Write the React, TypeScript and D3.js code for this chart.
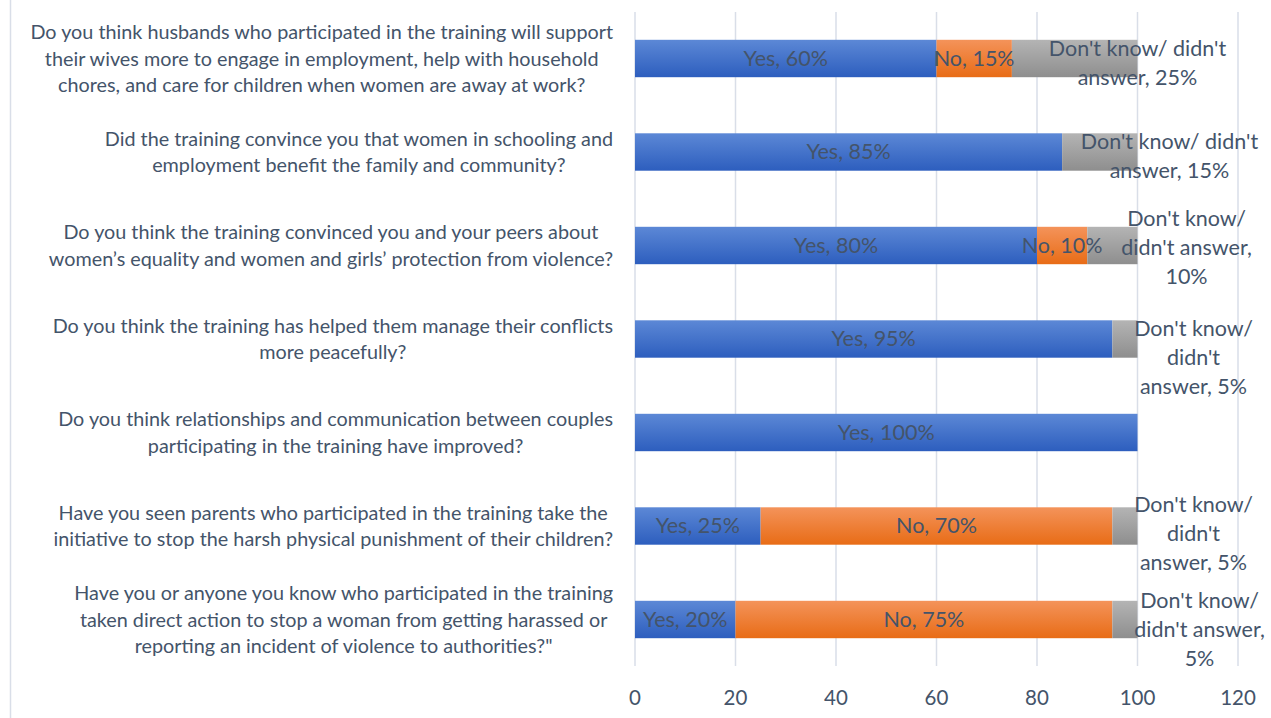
import React, { useEffect, useRef } from "react";
import * as d3 from "d3";

const questions: string[][] = [
  [
    "Do you think husbands who participated in the training will support",
    "their wives more to engage in employment, help with household",
    "chores, and care for children when women are away at work?",
  ],
  [
    "Did the training convince you that women in schooling and",
    "employment benefit the family and community?",
  ],
  [
    "Do you think the training convinced you and your peers about",
    "women’s equality and women and girls’ protection from violence?",
  ],
  [
    "Do you think the training has helped them manage their conflicts",
    "more peacefully?",
  ],
  [
    "Do you think relationships and communication between couples",
    "participating in the training have improved?",
  ],
  [
    "Have you seen parents who participated in the training take the",
    "initiative to stop the harsh physical punishment of their children?",
  ],
  [
    "Have you or anyone you know who participated in the training",
    "taken direct action to stop a woman from getting harassed or",
    "reporting an incident of violence to authorities?\"",
  ],
];

const yesValues = [60, 85, 80, 95, 100, 25, 20];
const noValues = [15, 0, 10, 0, 0, 70, 75];
const dkValues = [25, 15, 10, 5, 0, 5, 5];

const dkLabelLines: string[][] = [
  ["Don't know/ didn't", "answer, 25%"],
  ["Don't know/ didn't", "answer, 15%"],
  ["Don't know/", "didn't answer,", "10%"],
  ["Don't know/", "didn't", "answer, 5%"],
  [],
  ["Don't know/", "didn't", "answer, 5%"],
  ["Don't know/", "didn't answer,", "5%"],
];
// manual label nudges (px) for the "Don't know" labels, as placed in the source
const dkLabelDx = [0, 32, 49, 56, 0, 56, 62];
const dkLabelDy = [5, 4.5, 2, 19, 0, 8, 10];

const xTicks = [0, 20, 40, 60, 80, 100, 120];

const W = 1271;
const H = 718;
const FONT = "Lato, 'Open Sans', sans-serif";
const TEXT = "#44546A";
const GRID = "#D9DEE8";

export default function App() {
  const ref = useRef<SVGSVGElement | null>(null);

  useEffect(() => {
    const svg = d3.select(ref.current);
    svg.selectAll("*").remove();

    const x = d3.scaleLinear().domain([0, 120]).range([635, 1238]);
    const y = d3
      .scaleBand<number>()
      .domain(d3.range(questions.length))
      .range([11.75, 666.25])
      .paddingInner(0.6)
      .paddingOuter(0.3);

    const defs = svg.append("defs");
    const grads = [
      { id: "gYes", top: "#5C88D6", bottom: "#2D5EBE" },
      { id: "gNo", top: "#F4935A", bottom: "#E86C16" },
      { id: "gDk", top: "#B4B4B4", bottom: "#8E8E8E" },
    ];
    grads.forEach((g) => {
      const lg = defs
        .append("linearGradient")
        .attr("id", g.id)
        .attr("x1", 0)
        .attr("y1", 0)
        .attr("x2", 0)
        .attr("y2", 1);
      lg.append("stop").attr("offset", "0%").attr("stop-color", g.top);
      lg.append("stop").attr("offset", "100%").attr("stop-color", g.bottom);
    });

    svg.append("rect").attr("width", W).attr("height", H).attr("fill", "#fff");

    // chart frame left edge
    svg
      .append("line")
      .attr("x1", 10.5)
      .attr("x2", 10.5)
      .attr("y1", 0)
      .attr("y2", H)
      .attr("stroke", GRID)
      .attr("stroke-width", 1.5);

    // gridlines
    svg
      .append("g")
      .selectAll("line")
      .data(xTicks)
      .join("line")
      .attr("x1", (d) => x(d))
      .attr("x2", (d) => x(d))
      .attr("y1", 12)
      .attr("y2", 666)
      .attr("stroke", GRID)
      .attr("stroke-width", 1.5);

    // tick labels
    svg
      .append("g")
      .selectAll("text")
      .data(xTicks)
      .join("text")
      .attr("x", (d) => x(d))
      .attr("y", 705)
      .attr("text-anchor", "middle")
      .attr("font-family", FONT)
      .attr("font-size", 20.5)
      .attr("fill", TEXT)
      .text((d) => String(d));

    // stacked bars
    const rows = questions.map((_, i) => {
      const segs = [
        { key: "yes", v: yesValues[i], fill: "url(#gYes)", label: "Yes" },
        { key: "no", v: noValues[i], fill: "url(#gNo)", label: "No" },
        { key: "dk", v: dkValues[i], fill: "url(#gDk)", label: "" },
      ];
      let acc = 0;
      return segs.map((s) => {
        const x0 = acc;
        acc += s.v;
        return { ...s, x0, x1: acc, row: i };
      });
    });
    const flat = rows.flat().filter((s) => s.v > 0);

    svg
      .append("g")
      .selectAll("rect")
      .data(flat)
      .join("rect")
      .attr("x", (d) => x(d.x0))
      .attr("y", (d) => y(d.row)!)
      .attr("width", (d) => x(d.x1) - x(d.x0))
      .attr("height", y.bandwidth())
      .attr("fill", (d) => d.fill);

    // Yes / No labels, centered in segments
    svg
      .append("g")
      .selectAll("text")
      .data(flat.filter((d) => d.key !== "dk"))
      .join("text")
      .attr("x", (d) => x((d.x0 + d.x1) / 2))
      .attr("y", (d) => y(d.row)! + y.bandwidth() / 2 + 7)
      .attr("text-anchor", "middle")
      .attr("font-family", FONT)
      .attr("font-size", 21.5)
      .attr("fill", TEXT)
      .text((d) => `${d.label}, ${d.v}%`);

    // Don't know labels
    const dkG = svg.append("g");
    dkLabelLines.forEach((lines, i) => {
      if (!lines.length || dkValues[i] <= 0) return;
      const cx = x(100) + dkLabelDx[i];
      const cy = y(i)! + y.bandwidth() / 2 + dkLabelDy[i];
      const lh = 29;
      const t = dkG
        .append("text")
        .attr("text-anchor", "middle")
        .attr("font-family", FONT)
        .attr("font-size", 21.5)
        .attr("fill", TEXT);
      lines.forEach((ln, k) => {
        t.append("tspan")
          .attr("x", cx)
          .attr("y", cy + (k - (lines.length - 1) / 2) * lh + 7)
          .text(ln);
      });
    });

    // category labels: block right-aligned at 613, lines centered in block
    const catG = svg.append("g");
    questions.forEach((lines, i) => {
      const cy = y(i)! + y.bandwidth() / 2;
      const lh = 26.5;
      const texts = lines.map((ln, k) =>
        catG
          .append("text")
          .attr("text-anchor", "middle")
          .attr("font-family", FONT)
          .attr("font-size", 19.8)
          .attr("fill", TEXT)
          .attr("y", cy + (k - (lines.length - 1) / 2) * lh + 7)
          .text(ln)
      );
      const widths = texts.map((t) => (t.node() as SVGTextElement).getComputedTextLength());
      const bw = Math.max(...widths);
      const center = 613 - bw / 2;
      texts.forEach((t) => t.attr("x", center));
    });
  }, []);

  return (
    <svg
      ref={ref}
      width={W}
      height={H}
      style={{ position: "absolute", left: 0, top: 0, display: "block" }}
    />
  );
}
